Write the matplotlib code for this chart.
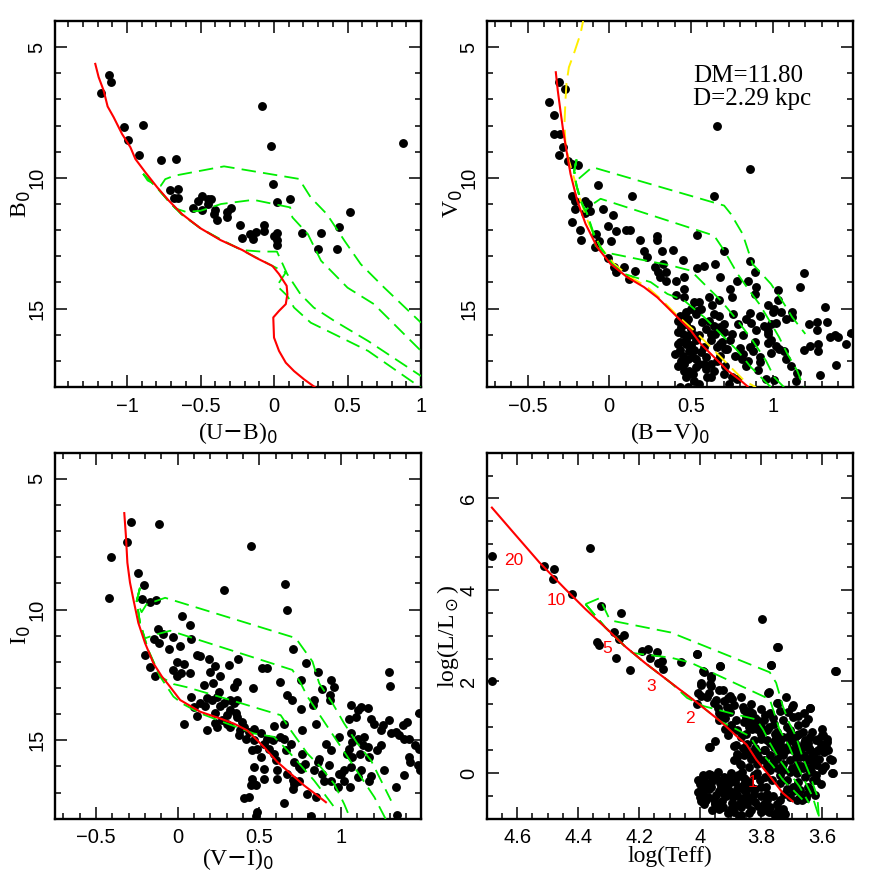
import numpy as np
import matplotlib
matplotlib.use('Agg')
import matplotlib.pyplot as plt
from matplotlib.ticker import MultipleLocator, FuncFormatter

############## Dados (valores estimados). ##############
########################################################################

# Painel (U-B)0 x B0
ub_stars = [(-1.18, 6.74), (-1.12, 6.05), (-1.11, 6.34), (-1.02, 8.06), (-0.89, 7.99),
  (-0.99, 8.57), (-0.92, 9.11), (-0.77, 9.30), (-0.67, 9.29), (-0.08, 7.27), (-0.02, 8.80),
  (0.875, 8.68), (-0.71, 10.46), (-0.65, 10.43), (-0.68, 10.78), (-0.65, 10.78), (-0.49, 10.68),
  (-0.52, 10.90), (-0.55, 11.15), (-0.49, 11.23), (-0.45, 10.82), (-0.43, 10.82), (-0.45, 11.0),
  (-0.40, 11.23), (-0.41, 11.38), (-0.39, 11.61), (-0.32, 11.32), (-0.29, 11.15), (-0.32, 11.48),
  (-0.23, 11.82), (-0.22, 12.31), (-0.16, 12.14), (-0.14, 12.35), (-0.12, 12.07), (-0.07, 11.82),
  (-0.07, 12.02), (-0.01, 10.23), (0.02, 10.92), (0.11, 10.81), (0.02, 12.11), (0.00, 12.21),
  (0.02, 12.38), (0.02, 12.57), (0.19, 12.11), (0.32, 12.11), (0.30, 12.74), (0.44, 11.88),
  (0.43, 12.71), (0.52, 11.32)]
ub_zams = [(-1.216, 5.64), (-1.193, 6.15), (-1.159, 6.66), (-1.132, 7.27), (-1.091, 7.68),
  (-1.034, 8.32), (-0.977, 8.83), (-0.943, 9.28), (-0.875, 9.79), (-0.795, 10.36),
  (-0.716, 10.87), (-0.625, 11.39), (-0.5, 11.93), (-0.364, 12.38), (-0.216, 12.76),
  (-0.125, 13.05), (-0.011, 13.37), (0.034, 13.68), (0.086, 14.13), (0.091, 14.45),
  (0.080, 14.83), (0.034, 15.09), (-0.005, 15.34), (0.0, 16.11), (0.034, 16.62),
  (0.080, 17.07), (0.136, 17.39), (0.205, 17.71), (0.284, 18.03)]
ub_iso = [
  [(-0.89, 9.85), (-0.86, 10.1), (-0.80, 10.28), (-0.77, 10.3), (-0.74, 10.05), (-0.68, 9.92),
   (-0.34, 9.56), (0.17, 10.04), (0.25, 10.75), (0.36, 11.39), (0.48, 12.41), (0.59, 13.30),
   (0.75, 14.2), (1.0, 15.54)],
  [(-0.89, 9.85), (-0.80, 10.35), (-0.72, 10.87), (-0.67, 11.17), (-0.6, 11.30), (-0.5, 11.26),
   (-0.36, 11.0), (-0.14, 10.84), (0.11, 11.13), (0.125, 11.51), (0.23, 12.15), (0.32, 13.17),
   (0.5, 14.2), (0.68, 14.83), (1.0, 16.62)],
  [(-0.89, 9.85), (-0.80, 10.35), (-0.72, 10.87), (-0.63, 11.39), (-0.5, 11.93), (-0.36, 12.36),
   (-0.22, 12.76), (-0.09, 12.82), (0.02, 12.82), (0.09, 13.68), (0.18, 14.45), (0.27, 14.96),
   (0.41, 15.47), (0.64, 16.24), (1.0, 17.58)],
  [(-0.89, 9.85), (-0.80, 10.35), (-0.72, 10.87), (-0.63, 11.39), (-0.5, 11.93), (-0.36, 12.38),
   (-0.22, 12.76), (-0.12, 13.05), (-0.01, 13.37), (0.08, 13.62), (0.02, 14.13), (0.09, 14.51),
   (0.136, 14.96), (0.25, 15.54), (0.41, 15.98), (0.64, 16.62), (1.0, 18.03)]]

# Painel (B-V)0 x V0
bv_stars = [(-0.31, 6.34), (-0.27, 6.62), (-0.37, 7.10), (-0.34, 7.59), (-0.34, 8.34),
  (-0.30, 8.34), (-0.28, 8.83), (-0.31, 9.12), (-0.25, 9.37), (-0.23, 9.46), (-0.19, 9.49),
  (0.66, 8.02), (0.86, 9.66), (-0.07, 10.29), (0.14, 10.68), (0.64, 10.68), (-0.23, 10.68),
  (-0.21, 10.87), (-0.15, 10.87), (-0.13, 11.0), (-0.21, 11.19), (-0.12, 11.25), (-0.15, 11.35),
  (-0.23, 11.70), (-0.18, 11.99), (-0.17, 12.36), (-0.04, 11.19), (0.02, 11.42), (-0.01, 11.86),
  (0.04, 12.05), (0.10, 11.99), (0.13, 11.99), (-0.08, 12.14), (-0.06, 12.40), (0.01, 12.40),
  (-0.09, 12.63), (0.19, 12.37), (0.21, 12.78), (0.23, 13.01), (0.29, 12.24), (0.29, 12.37),
  (0.32, 12.78), (0.39, 12.76), (0.54, 12.18), (0.45, 13.14), (-0.01, 13.07), (0.03, 13.42),
  (0.09, 13.42), (0.04, 13.61), (0.16, 13.58), (0.12, 13.86), (0.28, 13.42), (0.33, 13.29),
  (0.30, 13.61), (0.35, 13.61), (0.31, 13.80), (0.35, 13.93), (0.41, 13.93), (0.46, 13.80),
  (0.46, 14.25), (0.41, 14.50), (0.46, 14.54), (0.54, 13.46), (0.58, 13.39), (0.65, 13.29),
  (0.68, 13.80), (0.70, 12.81), (0.86, 13.19), (0.89, 13.61), (0.78, 13.93), (0.85, 13.93),
  (0.90, 14.16), (0.74, 14.25), (0.75, 14.57), (0.89, 14.44), (1.03, 14.29), (1.03, 14.67),
  (1.19, 13.65), (1.17, 14.18), (1.32, 14.95), (1.27, 15.52), (1.22, 15.59), (1.33, 15.52),
  (1.27, 15.82), (1.35, 16.10), (1.38, 16.01), (1.40, 16.07), (1.48, 15.94), (1.45, 16.35),
  (1.28, 16.35), (1.28, 16.61), (1.19, 16.58), (1.23, 16.42), (1.39, 17.16), (1.29, 17.56),
  (1.15, 17.47), (1.11, 17.18), (1.14, 17.76), (1.08, 16.93), (1.07, 16.61), (1.04, 16.54),
  (1.02, 16.42), (0.99, 16.20), (0.97, 15.97), (0.97, 15.84), (0.99, 15.59), (1.02, 15.56),
  (1.05, 15.14), (1.12, 15.14), (1.12, 15.33), (1.00, 15.14), (0.97, 14.85), (1.01, 15.01),
  (1.08, 15.40), (0.95, 15.65), (0.92, 15.27), (0.86, 15.18), (0.87, 15.56), (0.90, 15.82),
  (0.89, 16.29), (0.86, 16.48), (0.88, 16.61), (0.92, 16.84), (0.92, 17.05), (0.91, 17.35),
  (0.85, 16.99), (0.84, 17.18), (0.80, 16.52), (0.81, 16.93), (0.74, 16.22), (0.75, 15.97),
  (0.70, 15.59), (0.70, 15.91), (0.69, 16.29), (0.71, 16.54), (0.68, 16.80), (0.66, 16.48),
  (0.65, 15.97), (0.64, 15.65), (0.67, 15.27), (0.67, 14.69), (0.61, 14.57), (0.63, 14.88),
  (0.64, 15.20), (0.61, 15.46), (0.59, 15.78), (0.58, 16.48), (0.62, 15.97), (0.62, 16.22),
  (0.62, 17.63), (0.70, 17.50), (0.75, 17.63), (0.78, 17.69), (0.56, 15.01), (0.52, 14.76),
  (0.55, 14.76), (0.54, 15.08), (0.50, 15.01), (0.47, 15.14), (0.46, 15.27), (0.43, 15.27),
  (0.42, 15.46), (0.45, 15.46), (0.47, 15.59), (0.50, 15.78), (0.52, 16.03), (0.53, 16.22),
  (0.49, 16.03), (0.45, 15.97), (0.43, 16.29), (0.47, 16.35), (0.52, 16.58), (0.49, 16.61),
  (0.45, 16.80), (0.48, 16.93), (0.51, 16.87), (0.53, 16.93), (0.56, 16.67), (0.58, 17.12),
  (0.55, 17.12), (0.53, 17.24), (0.46, 17.12), (0.49, 17.37), (0.47, 17.60), (0.52, 17.76),
  (0.42, 17.18), (0.43, 17.99), (0.48, 17.99), (0.40, 16.74), (0.42, 16.35), (0.59, 16.84),
  (0.59, 17.31), (0.62, 17.12), (0.68, 16.35), (0.72, 16.54), (0.77, 16.80), (0.82, 16.74),
  (0.96, 17.69), (1.01, 17.73), (0.99, 16.71), (0.97, 16.33), (0.44, 15.70), (0.47, 16.20),
  (0.43, 16.60), (0.50, 16.40), (0.46, 17.40), (0.51, 17.50), (0.55, 16.00), (0.57, 15.50),
  (0.48, 15.40), (0.42, 15.90), (0.44, 17.00), (0.53, 15.20), (0.55, 17.90), (0.60, 17.60),
  (0.64, 17.40), (0.66, 17.00), (0.71, 17.20), (0.73, 17.90), (0.68, 15.70), (0.76, 15.20),
  (0.79, 15.60), (0.82, 16.00), (0.84, 15.40)]
bv_zams = [(-0.327, 5.96), (-0.315, 6.66), (-0.299, 7.42), (-0.282, 8.19), (-0.262, 8.95),
  (-0.237, 9.85), (-0.196, 10.87), (-0.145, 11.76), (-0.074, 12.65), (0.008, 13.29),
  (0.110, 13.80), (0.213, 14.18), (0.294, 14.57), (0.356, 14.95), (0.417, 15.33),
  (0.499, 15.84), (0.560, 16.35), (0.642, 16.86), (0.724, 17.37), (0.806, 17.76), (0.847, 17.98)]
bv_yellow = [(-0.15, 3.8), (-0.16, 4.0), (-0.176, 4.49), (-0.217, 5.26), (-0.247, 5.77),
  (-0.262, 6.40), (-0.268, 7.04), (-0.274, 7.93), (-0.268, 8.70), (-0.247, 9.34),
  (-0.217, 9.97), (-0.176, 10.87), (-0.125, 11.76), (-0.053, 12.65), (0.029, 13.29),
  (0.131, 13.80), (0.233, 14.18), (0.315, 14.63), (0.417, 15.27), (0.519, 15.84),
  (0.622, 16.48), (0.724, 17.12), (0.826, 17.76), (0.898, 18.01)]
bv_iso = [
  [(-0.20, 9.3), (-0.215, 9.75), (-0.19, 10.05), (-0.104, 9.59), (0.703, 11.06), (0.744, 11.38),
   (0.816, 12.14), (0.877, 13.29), (0.99, 14.06), (1.07, 14.82), (1.12, 15.33), (1.20, 15.97)],
  [(-0.20, 9.3), (-0.215, 9.75), (-0.20, 10.3), (-0.17, 10.9), (-0.15, 11.26), (-0.10, 11.0),
   (-0.053, 10.80), (0.642, 12.21), (0.703, 12.78), (0.785, 13.67), (0.857, 14.31), (0.918, 14.82),
   (0.98, 15.46), (1.04, 16.10), (1.09, 16.73), (1.15, 17.37), (1.19, 18.01)],
  [(-0.20, 9.3), (-0.215, 9.75), (-0.20, 10.3), (-0.176, 10.87), (-0.135, 11.38), (-0.10, 12.1),
   (-0.084, 12.6), (-0.033, 12.84), (0.172, 13.10), (0.376, 13.35), (0.499, 13.55), (0.581, 14.06),
   (0.683, 14.69), (0.785, 15.46), (0.877, 16.22), (0.959, 16.99), (1.01, 17.63), (1.07, 18.01)],
  [(-0.20, 9.3), (-0.215, 9.75), (-0.20, 10.3), (-0.176, 10.87), (-0.135, 11.38), (-0.094, 12.14),
   (-0.053, 12.65), (0.018, 13.29), (0.09, 13.67), (0.254, 13.99), (0.356, 14.44), (0.458, 14.69),
   (0.581, 15.33), (0.683, 15.97), (0.785, 16.61), (0.867, 17.24), (0.949, 17.76), (0.99, 18.01)]]

# Painel (V-I)0 x I0
vi_stars = [(-0.287, 6.64), (-0.113, 6.71), (-0.311, 7.41), (-0.406, 8.0), (0.449, 7.58),
  (-0.418, 9.54), (-0.240, 8.59), (-0.205, 9.06), (-0.217, 9.59), (-0.168, 9.71), (-0.131, 9.62),
  (0.287, 9.27), (0.656, 9.01), (0.668, 10.03), (0.027, 10.26), (0.078, 10.60), (0.082, 11.12),
  (-0.117, 10.74), (-0.086, 10.92), (-0.143, 11.12), (-0.111, 11.28), (-0.029, 11.06),
  (0.016, 11.41), (-0.055, 11.51), (-0.199, 11.73), (-0.168, 12.18), (-0.141, 12.54),
  (-0.004, 12.0), (0.037, 12.09), (-0.025, 12.31), (-0.004, 12.56), (0.023, 12.44), (0.074, 12.44),
  (0.082, 13.36), (0.041, 14.36), (0.119, 11.73), (0.139, 11.79), (0.191, 11.90), (0.232, 12.15),
  (0.316, 12.12), (0.369, 11.90), (0.201, 12.37), (0.262, 12.56), (0.217, 12.82), (0.160, 12.88),
  (0.365, 12.78), (0.463, 13.01), (0.518, 12.24), (0.549, 12.24), (0.627, 12.76), (0.707, 11.50),
  (0.785, 12.03), (0.861, 12.37), (0.754, 12.69), (0.939, 12.69), (0.959, 12.97), (0.887, 13.05),
  (0.672, 13.27), (0.703, 13.46), (0.754, 13.82), (0.836, 13.46), (0.826, 13.65), (0.930, 13.27),
  (0.930, 13.46), (0.846, 14.36), (0.764, 14.62), (0.652, 14.36), (0.590, 14.46), (0.627, 14.87),
  (0.586, 15.0), (0.652, 14.97), (0.697, 15.13), (0.662, 15.38), (0.713, 15.83), (0.744, 16.03),
  (0.709, 16.51), (0.672, 16.28), (0.607, 16.15), (0.611, 16.47), (0.709, 16.86), (0.652, 17.41),
  (0.795, 17.05), (0.846, 17.18), (0.816, 17.88), (0.980, 16.79), (0.990, 16.28), (1.020, 16.54),
  (0.939, 16.54), (0.928, 15.96), (0.939, 15.38), (0.908, 15.13), (0.990, 14.87), (1.061, 14.74),
  (1.051, 14.17), (1.061, 13.65), (1.102, 13.85), (1.123, 13.72), (1.164, 13.78), (1.092, 14.10),
  (1.184, 14.17), (1.205, 14.36), (1.256, 14.42), (1.295, 14.23), (1.295, 12.37), (1.299, 12.92),
  (1.246, 14.62), (1.307, 14.74), (1.340, 14.68), (1.406, 14.30), (1.379, 14.42), (1.475, 13.95),
  (1.357, 14.81), (1.389, 14.97), (1.418, 14.94), (1.475, 15.32), (1.451, 15.19), (1.414, 15.64),
  (1.420, 15.83), (1.471, 15.96), (1.482, 16.15), (1.385, 16.31), (1.338, 16.79), (1.344, 17.85),
  (1.264, 16.15), (1.244, 15.19), (1.223, 15.38), (1.174, 15.64), (1.164, 15.26), (1.143, 14.87),
  (1.102, 14.94), (1.133, 15.19), (1.119, 15.51), (1.070, 15.06), (1.049, 15.32), (1.039, 15.51),
  (1.070, 15.64), (1.059, 16.03), (1.016, 16.13), (1.123, 16.15), (1.102, 16.41), (1.184, 16.35),
  (1.174, 16.54), (1.057, 16.77), (1.0, 16.28), (0.887, 16.28), (0.898, 16.54), (0.867, 15.71),
  (0.857, 15.83), (0.836, 16.15), (0.779, 15.90), (0.764, 15.51), (0.754, 16.09), (0.744, 16.54),
  (0.713, 16.67), (0.600, 15.77), (0.590, 15.51), (0.559, 15.32), (0.529, 15.13), (0.549, 14.94),
  (0.508, 14.74), (0.467, 14.55), (0.436, 14.68), (0.406, 14.49), (0.375, 14.81), (0.416, 14.94),
  (0.467, 15.0), (0.488, 15.32), (0.457, 15.38), (0.508, 15.64), (0.467, 16.03), (0.531, 16.09),
  (0.529, 16.47), (0.457, 16.47), (0.447, 16.73), (0.467, 16.67), (0.478, 16.73), (0.406, 17.21),
  (0.436, 17.18), (0.488, 17.76), (0.478, 17.88), (0.344, 12.95), (0.324, 13.46), (0.344, 13.59),
  (0.365, 13.46), (0.324, 13.85), (0.355, 13.97), (0.365, 14.10), (0.303, 14.04), (0.273, 14.21),
  (0.232, 13.97), (0.262, 13.69), (0.283, 13.59), (0.242, 13.33), (0.252, 13.14), (0.211, 13.46),
  (0.180, 13.40), (0.170, 13.69), (0.232, 14.33), (0.242, 14.49), (0.180, 14.62), (0.303, 14.36),
  (0.324, 14.49), (0.395, 14.29), (0.385, 14.62), (0.119, 14.08), (0.098, 13.72), (0.139, 13.59)]
vi_zams = [(-0.326, 6.31), (-0.316, 7.18), (-0.307, 8.21), (-0.291, 8.97), (-0.270, 9.62),
  (-0.240, 10.51), (-0.199, 11.28), (-0.148, 12.05), (-0.096, 12.56), (-0.055, 12.88),
  (0.016, 13.46), (0.139, 13.91), (0.262, 14.17), (0.344, 14.36), (0.426, 14.62), (0.529, 15.26),
  (0.611, 15.83), (0.693, 16.28), (0.775, 16.73), (0.857, 17.12), (0.908, 17.37)]
vi_iso = [
  [(-0.23, 9.17), (-0.25, 9.68), (-0.22, 10.1), (-0.19, 9.8), (-0.076, 9.55), (0.723, 11.09),
   (0.826, 11.99), (0.867, 12.82), (0.949, 13.59), (1.02, 14.36), (1.102, 15.13), (1.184, 15.77),
   (1.307, 17.31)],
  [(-0.23, 9.17), (-0.25, 9.68), (-0.23, 10.51), (-0.20, 11.1), (-0.13, 10.95), (-0.045, 10.81),
   (0.703, 12.31), (0.754, 12.82), (0.795, 13.33), (0.877, 14.10), (0.959, 14.87), (1.041, 15.64),
   (1.123, 16.41), (1.205, 17.18), (1.277, 18.05)],
  [(-0.23, 9.17), (-0.25, 9.68), (-0.23, 10.51), (-0.18, 11.54), (-0.107, 12.56), (-0.025, 12.85),
   (0.057, 12.97), (0.324, 13.46), (0.529, 13.85), (0.631, 14.04), (0.693, 14.62), (0.795, 15.51),
   (0.877, 16.03), (0.959, 16.67), (1.02, 17.44), (1.061, 18.05)],
  [(-0.23, 9.17), (-0.25, 9.68), (-0.23, 10.51), (-0.18, 11.54), (-0.107, 12.56), (-0.025, 13.33),
   (0.027, 13.59), (0.139, 13.97), (0.303, 14.36), (0.467, 14.74), (0.59, 14.87), (0.672, 15.38),
   (0.754, 15.96), (0.836, 16.54), (0.898, 17.05), (0.959, 17.56)]]

# Painel log(Teff) x log(L/Lsol)
hr_stars = [(4.683, 4.74), (4.683, 2.01), (4.513, 4.53), (4.478, 4.45), (4.481, 4.25),
  (4.419, 3.92), (4.360, 4.91), (4.325, 3.64), (4.338, 2.86), (4.333, 2.79), (4.259, 3.50),
  (4.284, 3.08), (4.267, 2.92), (4.250, 3.01), (4.276, 2.52), (4.230, 2.26), (4.190, 2.66),
  (4.171, 2.72), (4.165, 2.52), (4.143, 2.64), (4.139, 2.41), (4.126, 2.45), (4.123, 2.28),
  (4.063, 2.42), (4.009, 2.61), (3.990, 2.23), (3.966, 2.08), (3.936, 2.34), (3.796, 3.37),
  (3.749, 2.75), (3.767, 2.35), (3.555, 2.22), (3.778, 1.75), (3.749, 1.53), (3.970, 0.57),
  (3.641, 1.42), (3.600, 0.82), (3.584, 0.67), (3.568, 0.29), (3.565, 0.0), (3.600, 0.07),
  (3.621, -0.15), (3.654, -0.55), (3.724, -0.88), (3.751, -0.95), (3.872, -0.95), (3.999, -0.51),
  (3.999, -0.62), (3.988, -0.15), (3.983, -0.36), (3.837, 1.13), (3.816, 1.09), (3.902, 1.68),
  (3.921, 1.57), (3.918, 1.20), (3.939, 1.31), (3.955, 1.53), (3.999, 1.68), (3.999, 1.93),
  (4.009, 1.50), (3.972, 1.75), (3.966, 1.90), (3.686, 0.80), (3.675, 0.51), (3.659, 0.66),
  (3.643, 0.55), (3.632, 0.36), (3.611, 0.51), (3.595, 0.58), (3.616, 0.18), (3.638, 0.04),
  (4.009, 2.61), (3.746, 2.76), (3.768, 2.35), (3.557, 2.22), (3.988, 2.21), (3.934, 2.33),
  (3.966, 2.12), (3.998, 1.96), (3.969, 1.94), (3.937, 1.81), (3.926, 1.82), (4.007, 1.74),
  (3.977, 1.65), (3.910, 1.63), (3.897, 1.61), (3.867, 1.66), (3.889, 1.48), (3.912, 1.45),
  (3.942, 1.41), (3.833, 1.50), (3.856, 1.37), (3.829, 1.31), (3.775, 1.77), (3.746, 1.53),
  (3.770, 1.31), (3.786, 1.26), (3.641, 1.41), (3.646, 1.19), (3.921, 1.26), (3.969, 0.57),
  (3.883, 1.15), (3.856, 1.12), (3.899, 0.99), (3.878, 0.93), (3.910, 0.82), (3.867, 0.79),
  (3.840, 1.01), (3.813, 0.97), (3.802, 1.01), (3.781, 0.94), (3.759, 1.08), (3.749, 0.90),
  (3.727, 1.15), (3.716, 1.01), (3.705, 0.94), (3.684, 0.82), (3.662, 0.90), (3.641, 0.79),
  (3.619, 0.72), (3.598, 0.82), (3.603, 0.64), (3.587, 0.57), (3.614, 0.50), (3.576, 0.31),
  (3.598, 0.10), (3.568, 0.00), (3.630, 0.31), (3.651, 0.28), (3.673, 0.35), (3.695, 0.50),
  (3.716, 0.57), (3.738, 0.64), (3.759, 0.57), (3.781, 0.72), (3.802, 0.75), (3.824, 0.72),
  (3.846, 0.64), (3.883, 0.61), (3.878, 0.42), (3.856, 0.39), (3.889, 0.28), (3.867, 0.17),
  (3.840, 0.13), (3.813, 0.20), (3.792, 0.28), (3.770, 0.39), (3.749, 0.31), (3.727, 0.39),
  (3.705, 0.28), (3.684, 0.17), (3.662, 0.10), (3.641, 0.02), (3.630, -0.16), (3.657, -0.09),
  (3.684, -0.01), (3.705, 0.02), (3.727, 0.06), (3.749, 0.10), (3.770, 0.06), (3.786, -0.09),
  (3.765, -0.16), (3.738, -0.23), (3.716, -0.34), (3.695, -0.30), (3.673, -0.38), (3.646, -0.30),
  (3.705, -0.52), (3.684, -0.60), (3.813, -0.01), (3.802, -0.30), (3.781, -0.45), (3.824, -0.45),
  (3.851, -0.16), (3.878, -0.09), (3.899, -0.01), (3.921, -0.09), (3.948, -0.12), (3.986, -0.09),
  (4.007, -0.16), (3.964, -0.30), (3.932, -0.30), (3.905, -0.23), (3.878, -0.34), (3.856, -0.38),
  (3.835, -0.30), (3.996, -0.38), (4.002, -0.52), (3.975, -0.52), (3.948, -0.49), (3.921, -0.45),
  (3.894, -0.52), (3.867, -0.60), (3.846, -0.52), (3.819, -0.63), (3.792, -0.67), (3.770, -0.74),
  (3.749, -0.67), (3.727, -0.78), (3.722, -0.89), (3.759, -0.89), (3.835, -0.82), (3.867, -0.93),
  (3.953, -0.67), (3.986, -0.67), (3.926, -0.74), (3.899, -0.78), (4.007, -0.41), (3.980, -0.23),
  (3.964, -0.05), (3.942, 0.02), (3.926, -0.16), (3.910, -0.34), (3.878, -0.71), (3.802, -0.85),
  (3.673, -0.52), (3.651, -0.45), (3.625, -0.49), (3.862, 0.02), (3.835, 0.31), (3.813, 0.46),
  (3.786, 0.50), (3.727, 0.79), (3.705, 0.72), (3.684, 0.57), (3.662, 0.57), (3.641, 0.50),
  (3.679, 1.04), (3.657, 0.72), (3.754, 0.72), (3.738, 0.50), (3.813, 1.15), (3.792, 1.15),
  (3.851, 1.23), (3.711, 1.34), (3.695, 1.23), (3.695, 1.48), (3.901, 1.34), (3.948, 1.59),
  (4.00, -0.25), (3.99, -0.45), (3.98, -0.60), (3.97, -0.35), (3.96, -0.18), (3.955, -0.58),
  (3.94, -0.40), (3.935, -0.22), (3.93, -0.62), (3.92, -0.30), (3.915, -0.50), (3.905, -0.10),
  (3.90, -0.42), (3.895, -0.65), (3.885, -0.20), (3.88, -0.48), (3.875, -0.05), (3.87, -0.30),
  (3.865, -0.75), (3.86, -0.55), (3.855, -0.10), (3.85, -0.40), (3.845, -0.68), (3.84, -0.20),
  (3.83, -0.58), (3.825, -0.05), (3.82, -0.35), (3.81, -0.72), (3.805, -0.15), (3.80, -0.50),
  (3.79, -0.80), (3.785, -0.30), (3.78, -0.60), (3.775, -0.85), (3.76, -0.50), (3.745, -0.80),
  (3.74, -0.60), (3.73, -0.92), (3.96, -0.82), (3.94, -0.78), (3.91, -0.88), (3.89, -0.85),
  (3.84, -0.88), (3.97, -0.02), (3.95, -0.65), (3.99, -0.05), (3.88, 0.35), (3.86, 0.55),
  (3.85, 0.85), (3.84, 0.45), (3.83, 0.95), (3.82, 0.55), (3.81, 0.35), (3.80, 0.85),
  (3.79, 0.50), (3.78, 0.15), (3.775, 1.0), (3.77, 0.65), (3.76, 0.25), (3.755, 0.85),
  (3.745, 0.45), (3.74, -0.05), (3.735, 0.75), (3.73, 0.20), (3.725, -0.45), (3.72, 0.50),
  (3.715, -0.15), (3.71, 0.80), (3.70, 0.10), (3.695, -0.40), (3.69, 0.65), (3.685, 0.35),
  (3.68, -0.20), (3.675, 0.85), (3.67, 0.15), (3.665, -0.60), (3.66, 0.40), (3.655, 1.10),
  (3.65, 0.10), (3.645, 0.65), (3.64, -0.35), (3.635, 0.90), (3.63, 0.20), (3.625, 0.45),
  (3.62, -0.05), (3.615, 0.75), (3.61, 0.30), (3.605, -0.25), (3.60, 0.95), (3.595, 0.45),
  (3.59, 0.15), (3.585, 0.75), (3.58, 0.50), (3.86, 1.45), (3.84, 1.35), (3.82, 1.20),
  (3.80, 1.40), (3.76, 1.20), (3.74, 1.35), (3.72, 1.65), (3.70, 1.45), (3.68, 1.25),
  (3.66, 1.30), (3.90, 1.05), (3.92, 0.95), (3.94, 1.15), (3.95, 0.70), (3.89, 0.60),
  (3.87, 0.20), (3.855, -0.25)]
hr_zams = [(4.683, 5.80), (4.613, 5.26), (4.527, 4.60), (4.441, 4.01), (4.376, 3.58),
  (4.311, 3.18), (4.247, 2.77), (4.182, 2.41), (4.096, 1.97), (4.009, 1.53), (3.934, 1.13),
  (3.880, 0.80), (3.848, 0.62), (3.816, 0.29), (3.772, -0.07), (3.729, -0.44), (3.697, -0.62)]
hr_iso = [
  [(4.376, 3.69), (4.33, 3.82), (4.30, 3.40), (4.284, 3.32), (4.096, 3.07), (3.772, 2.20),
   (3.751, 1.97), (3.729, 1.46), (3.708, 1.09), (3.686, 0.80), (3.665, 0.36), (3.643, 0.0),
   (3.616, -0.51), (3.611, -0.95)],
  [(4.376, 3.69), (4.311, 3.18), (4.247, 2.77), (4.22, 2.62), (4.096, 2.52), (4.031, 2.41),
   (3.772, 1.61), (3.761, 1.39), (3.740, 0.95), (3.708, 0.58), (3.686, 0.22), (3.654, -0.22),
   (3.632, -0.51), (3.611, -0.95)],
  [(4.376, 3.69), (4.311, 3.18), (4.247, 2.77), (4.182, 2.41), (4.096, 1.97), (4.043, 1.64),
   (3.988, 1.46), (3.902, 1.31), (3.816, 1.17), (3.794, 0.95), (3.772, 0.66), (3.740, 0.29),
   (3.708, 0.0), (3.675, -0.29), (3.643, -0.66)],
  [(4.376, 3.69), (4.311, 3.18), (4.247, 2.77), (4.182, 2.41), (4.096, 1.97), (4.009, 1.53),
   (3.934, 1.13), (3.880, 0.95), (3.837, 0.80), (3.816, 0.58), (3.789, 0.36), (3.761, 0.15),
   (3.729, -0.15), (3.697, -0.36), (3.665, -0.58)]]
mass_labels = ['20', '10', '5', '3', '2', '1']
mass_pos = [(4.611, 4.64), (4.473, 3.76), (4.306, 2.72), (4.160, 1.90), (4.033, 1.18), (3.828, -0.20)]

dm_text = 'DM=11.80'
dist_text = 'D=2.29 kpc'

########################################################################

tickFont = 'Liberation Sans'
labelFont = 'Liberation Serif'
green = '#00ee00'


def Rotulo(v, pos):
  # Rotulos no estilo do PGPLOT: "1" em vez de "1.0" e sinal de menos verdadeiro.
  return ('%g' % round(v, 3)).replace('-', '\u2212')


def Desenha(ax, stars, zams, isos, xlim, ylim, xmaj, xmin, ymaj, ymin, xlab, ylab, xl, yl):
  s = np.array(stars)
  ax.plot(s[:, 0], s[:, 1], 'o', color='k', markersize=6.4, markeredgewidth=0, zorder=2)
  for iso in isos:
    a = np.array(iso)
    ax.plot(a[:, 0], a[:, 1], color=green, lw=1.3, dashes=(8, 4), zorder=3)
  z = np.array(zams)
  ax.plot(z[:, 0], z[:, 1], color='red', lw=1.5, zorder=4)
  ax.set_xlim(xlim)
  ax.set_ylim(ylim)
  ax.xaxis.set_major_locator(MultipleLocator(xmaj))
  ax.xaxis.set_minor_locator(MultipleLocator(xmin))
  ax.yaxis.set_major_locator(MultipleLocator(ymaj))
  ax.yaxis.set_minor_locator(MultipleLocator(ymin))
  ax.xaxis.set_major_formatter(FuncFormatter(Rotulo))
  ax.yaxis.set_major_formatter(FuncFormatter(Rotulo))
  ax.tick_params(which='both', direction='in', top=True, right=True, width=1.1)
  ax.tick_params(which='major', length=8.5)
  ax.tick_params(which='minor', length=4.3)
  ax.tick_params(axis='x', pad=7, labelsize=14.5)
  ax.tick_params(axis='y', pad=6, labelsize=14.5, labelrotation=90)
  for lab in ax.get_xticklabels() + ax.get_yticklabels():
    lab.set_fontfamily(tickFont)
  for lab in ax.get_yticklabels():
    lab.set_va('center')
  for sp in ax.spines.values():
    sp.set_linewidth(1.7)
  ax.set_xlabel(xlab, fontsize=17, family=labelFont)
  ax.set_ylabel(ylab, fontsize=17, family=labelFont)
  ax.xaxis.set_label_coords(0.5, xl)
  ax.yaxis.set_label_coords(yl, 0.5)


fig = plt.figure(figsize=(8.72, 8.72), dpi=100)
W = 366 / 872.
ax1 = fig.add_axes([55 / 872., 1 - 387 / 872., W, W])
ax2 = fig.add_axes([486.7 / 872., 1 - 387 / 872., W, W])
ax3 = fig.add_axes([55 / 872., 1 - 818.7 / 872., W, W])
ax4 = fig.add_axes([486.7 / 872., 1 - 818.7 / 872., W, W])

Desenha(ax1, ub_stars, ub_zams, ub_iso, (-1.49, 1.0), (18, 4), 0.5, 0.1, 5, 1,
        r'(U$-$B)$_0$', r'B$_0$', -0.09, -0.06)

y = np.array(bv_yellow)
ax2.plot(y[:, 0], y[:, 1], color='#ffee00', lw=1.4, dashes=(8, 4), zorder=3)
Desenha(ax2, bv_stars, bv_zams, bv_iso, (-0.75, 1.49), (18, 4), 0.5, 0.1, 5, 1,
        r'(B$-$V)$_0$', r'V$_0$', -0.09, -0.06)
ax2.text(0.515, 6.34, dm_text, fontsize=18, family=labelFont, ha='left', va='baseline')
ax2.text(0.515, 7.23, dist_text, fontsize=18, family=labelFont, ha='left', va='baseline')

Desenha(ax3, vi_stars, vi_zams, vi_iso, (-0.75, 1.49), (18, 4), 0.5, 0.1, 5, 1,
        r'(V$-$I)$_0$', r'I$_0$', -0.075, -0.06)

Desenha(ax4, hr_stars, hr_zams, hr_iso, (4.7, 3.5), (-1, 7), 0.2, 0.05, 2, 0.5,
        'log(Teff)', r'log(L/L$_\odot$)', -0.075, -0.07)
for lab, (px, py) in zip(mass_labels, mass_pos):
  ax4.text(px, py, lab, color='red', fontsize=12.5, family=tickFont, ha='center', va='center',
           zorder=5)

plt.savefig('out.png', dpi=100)
